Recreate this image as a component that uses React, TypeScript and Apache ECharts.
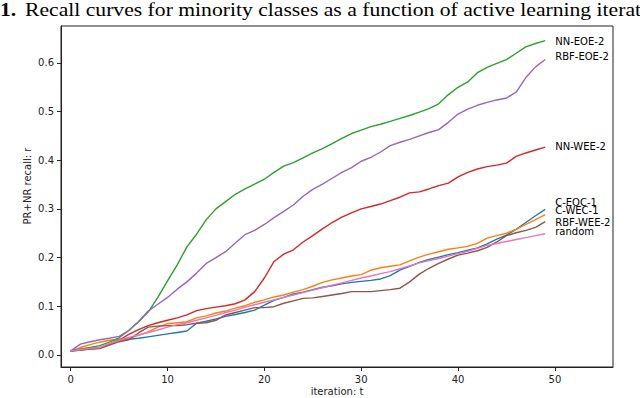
import React, { useEffect, useRef } from "react";
import * as echarts from "echarts";

const iterations = [0,1,2,3,4,5,6,7,8,9,10,11,12,13,14,15,16,17,18,19,20,21,22,23,24,25,26,27,28,29,30,31,32,33,34,35,36,37,38,39,40,41,42,43,44,45,46,47,48,49];

const cEOC1 = [0.008,0.011,0.013,0.015,0.022,0.030,0.032,0.034,0.037,0.040,0.043,0.046,0.049,0.065,0.069,0.074,0.079,0.083,0.087,0.092,0.102,0.112,0.118,0.125,0.129,0.134,0.139,0.142,0.146,0.149,0.151,0.153,0.156,0.163,0.174,0.182,0.190,0.196,0.201,0.206,0.210,0.215,0.220,0.228,0.238,0.246,0.258,0.272,0.286,0.299];
const cWEC1 = [0.008,0.015,0.021,0.026,0.030,0.032,0.034,0.040,0.047,0.057,0.064,0.066,0.068,0.076,0.080,0.086,0.090,0.096,0.101,0.108,0.113,0.119,0.123,0.129,0.134,0.141,0.149,0.154,0.158,0.162,0.165,0.174,0.179,0.182,0.185,0.193,0.201,0.207,0.212,0.217,0.220,0.223,0.229,0.240,0.245,0.250,0.258,0.268,0.278,0.288];
const nnEOE2 = [0.008,0.012,0.015,0.019,0.026,0.035,0.050,0.068,0.088,0.118,0.152,0.185,0.222,0.248,0.278,0.300,0.315,0.330,0.341,0.351,0.361,0.375,0.388,0.395,0.405,0.415,0.424,0.434,0.445,0.455,0.462,0.469,0.474,0.480,0.486,0.492,0.499,0.506,0.516,0.535,0.550,0.561,0.580,0.591,0.599,0.607,0.620,0.633,0.640,0.646];
const nnWEE2 = [0.008,0.010,0.012,0.014,0.022,0.030,0.042,0.052,0.060,0.066,0.071,0.076,0.082,0.091,0.095,0.098,0.101,0.105,0.113,0.130,0.158,0.192,0.207,0.216,0.232,0.245,0.259,0.272,0.283,0.292,0.300,0.305,0.310,0.317,0.324,0.333,0.335,0.341,0.348,0.353,0.366,0.375,0.382,0.387,0.390,0.394,0.408,0.415,0.421,0.427];
const rbfEOE2 = [0.008,0.022,0.027,0.031,0.034,0.038,0.050,0.068,0.090,0.104,0.118,0.135,0.150,0.168,0.188,0.200,0.212,0.230,0.247,0.256,0.268,0.282,0.295,0.308,0.326,0.340,0.351,0.363,0.375,0.385,0.398,0.406,0.417,0.430,0.437,0.443,0.450,0.457,0.463,0.478,0.495,0.505,0.513,0.519,0.524,0.528,0.540,0.570,0.592,0.607];
const rbfWEE2 = [0.008,0.010,0.012,0.013,0.020,0.027,0.031,0.045,0.057,0.059,0.060,0.060,0.062,0.065,0.066,0.071,0.082,0.087,0.092,0.097,0.097,0.099,0.106,0.111,0.116,0.117,0.120,0.123,0.126,0.130,0.130,0.130,0.132,0.134,0.137,0.150,0.166,0.178,0.188,0.197,0.205,0.209,0.214,0.221,0.232,0.245,0.251,0.256,0.262,0.274];
const randomCurve = [0.008,0.011,0.013,0.015,0.023,0.030,0.036,0.041,0.046,0.051,0.057,0.062,0.066,0.071,0.076,0.081,0.087,0.092,0.098,0.103,0.108,0.113,0.118,0.123,0.128,0.133,0.138,0.143,0.148,0.153,0.158,0.162,0.167,0.171,0.177,0.183,0.189,0.194,0.198,0.203,0.208,0.213,0.219,0.225,0.229,0.233,0.237,0.241,0.245,0.249];

const seriesNames = ["C-EOC-1", "C-WEC-1", "NN-EOE-2", "NN-WEE-2", "RBF-EOE-2", "RBF-WEE-2", "random"];
const seriesValues = [cEOC1, cWEC1, nnEOE2, nnWEE2, rbfEOE2, rbfWEE2, randomCurve];
const xTicks = [0, 10, 20, 30, 40, 50];
const yTicks = [0, 0.1, 0.2, 0.3, 0.4, 0.5, 0.6];

const colors = ["#1f77b4", "#ff7f0e", "#2ca02c", "#d62728", "#9467bd", "#8c564b", "#e377c2"];
const labelOffsets = [[0, -7], [0, -4], [0, 1], [0, -1], [0, -3], [0, 1], [0, -2]];

const SANS = "DejaVu Sans";

export default function App() {
  const ref = useRef<HTMLDivElement>(null);
  useEffect(() => {
    if (!ref.current) return;
    const chart = echarts.init(ref.current, undefined, { renderer: "svg" });
    const series = seriesNames.map((name, i) => ({
      type: "line",
      name,
      data: iterations.map((t, j) => [t, seriesValues[i][j]]),
      showSymbol: false,
      symbol: "none",
      lineStyle: { color: colors[i], width: 1.4 },
      itemStyle: { color: colors[i] },
      clip: false,
      z: 2 + i,
      endLabel: {
        show: true,
        formatter: name,
        distance: 10,
        offset: labelOffsets[i],
        color: "#000",
        fontSize: 10,
        fontFamily: SANS,
      },
    }));
    chart.setOption({
      animation: false,
      backgroundColor: "#fff",
      grid: {
        left: 61,
        right: 27,
        top: 26,
        bottom: 31,
        show: true,
        borderColor: "#222",
        borderWidth: 1,
        backgroundColor: "transparent",
      },
      xAxis: {
        type: "value",
        min: -1,
        max: 56,
        axisLine: { show: true, onZero: false, lineStyle: { color: "#222", width: 1 } },
        axisTick: { show: true, inside: false, length: 4, customValues: xTicks, lineStyle: { color: "#222" } },
        axisLabel: { customValues: xTicks, margin: 7, fontSize: 10, fontFamily: SANS, color: "#222" },
        splitLine: { show: false },
      },
      yAxis: {
        type: "value",
        min: -0.025,
        max: 0.676,
        axisLine: { show: true, onZero: false, lineStyle: { color: "#222", width: 1 } },
        axisTick: { show: true, inside: false, length: 4, customValues: yTicks, lineStyle: { color: "#222" } },
        axisLabel: {
          customValues: yTicks,
          margin: 7,
          fontSize: 10,
          fontFamily: SANS,
          color: "#222",
          formatter: (v: number) => v.toFixed(1),
        },
        splitLine: { show: false },
      },
      graphic: [
        {
          type: "text",
          x: 0,
          y: 0,
          scaleX: 1.14,
          style: {
            text: "1.",
            font: "bold 19px 'Liberation Serif'",
            fill: "#000",
            verticalAlign: "top",
          },
        },
        {
          type: "text",
          x: 25,
          y: 0,
          scaleX: 1.14,
          style: {
            text: "Recall curves for minority classes as a function of active learning iterat",
            font: "19px 'Liberation Serif'",
            fill: "#000",
            verticalAlign: "top",
          },
        },
        {
          type: "text",
          x: 27,
          y: 186,
          rotation: Math.PI / 2,
          style: {
            text: "PR+NR recall: r",
            font: `10px '${SANS}'`,
            fill: "#222",
            align: "center",
            verticalAlign: "middle",
          },
        },
        {
          type: "text",
          x: 337,
          y: 391,
          style: {
            text: "iteration: t",
            font: `10px '${SANS}'`,
            fill: "#222",
            align: "center",
            verticalAlign: "middle",
          },
        },
      ],
      series,
    });
    return () => chart.dispose();
  }, []);
  return <div ref={ref} style={{ position: "fixed", left: 0, top: 0, width: 640, height: 398 }} />;
}
